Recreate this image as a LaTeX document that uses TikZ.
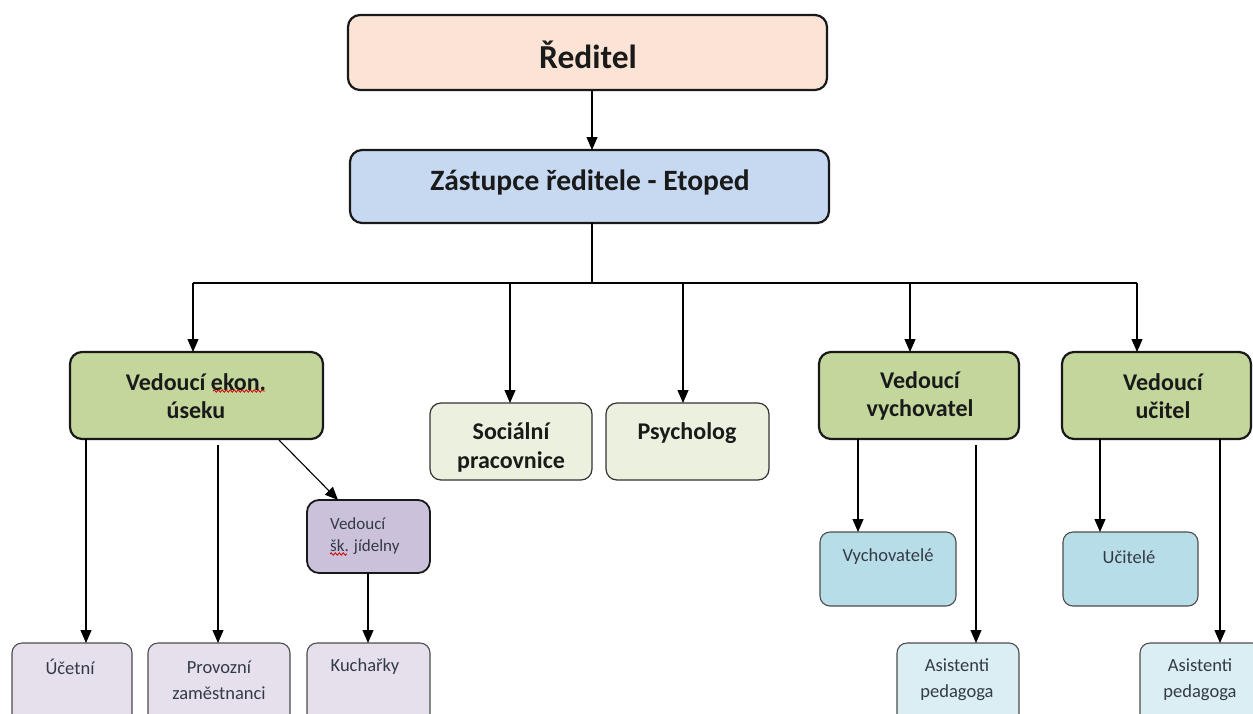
\documentclass[tikz,border=0pt]{standalone}
\usepackage{fontspec}
\setmainfont{Carlito}
\usetikzlibrary{arrows.meta,decorations.pathmorphing}
\definecolor{cRed}{HTML}{FBE4D5}
\definecolor{cZast}{HTML}{C6D9F1}
\definecolor{cGreen}{HTML}{C3D69B}
\definecolor{cLGreen}{HTML}{EBF1DE}
\definecolor{cPurple}{HTML}{CCC1DA}
\definecolor{cLPurple}{HTML}{E5E0EC}
\definecolor{cBlue}{HTML}{B7DEE8}
\definecolor{cLBlue}{HTML}{DBEEF4}
\definecolor{cTxt}{HTML}{1A1A1A}
\definecolor{cSmall}{HTML}{333A44}
\tikzset{
  bigbox/.style={draw=black!90, line width=2.2pt, rounded corners=12pt, inner sep=0pt, outer sep=0pt},
  midbox/.style={draw=black!80, line width=1.2pt, rounded corners=11pt, inner sep=0pt, outer sep=0pt},
  smallbox/.style={draw=black!70, line width=1.1pt, rounded corners=10pt, inner sep=0pt, outer sep=0pt},
  bigtxt/.style={font=\bfseries, text=cTxt, align=center, inner sep=0pt},
  smalltxt/.style={font=\fontsize{18.5}{26}\selectfont, text=cSmall, align=center, inner sep=0pt},
  arr/.style={line width=1.1pt, draw=black, -{Triangle[length=13pt,width=11pt]}},
  plain/.style={line width=1.1pt, draw=black},
  squig/.style={draw=red!80!black, line width=0.8pt, decorate, decoration={snake, amplitude=1.2pt, segment length=4pt}}
}
\begin{document}
\begin{tikzpicture}[x=1pt,y=-1pt]
\useasboundingbox (0,0) rectangle (1253,713);
\fill[white] (0,0) rectangle (1253,713);
\clip (0,0) rectangle (1253,713);

% boxes
\node[bigbox, fill=cRed, minimum width=479, minimum height=75] (reditel) at (587.5,52.5) {};
\node[bigbox, fill=cZast, minimum width=479, minimum height=73] (zast) at (589.5,186.5) {};
\node[bigbox, fill=cGreen, minimum width=253, minimum height=87] (ekon) at (196.5,395.5) {};
\node[midbox, fill=cLGreen, minimum width=162, minimum height=77] (soc) at (511,441.5) {};
\node[midbox, fill=cLGreen, minimum width=163, minimum height=77] (psy) at (687.5,441.5) {};
\node[bigbox, fill=cGreen, minimum width=200, minimum height=87] (vych) at (919,395.5) {};
\node[bigbox, fill=cGreen, minimum width=189, minimum height=87] (uc) at (1156.5,395.5) {};
\node[bigbox, line width=1.8pt, fill=cPurple, minimum width=123, minimum height=73] (jid) at (368.5,536.5) {};
\node[smallbox, fill=cLPurple, minimum width=120, minimum height=90] (ucetni) at (72,688) {};
\node[smallbox, fill=cLPurple, minimum width=142, minimum height=90] (prov) at (219,688) {};
\node[smallbox, fill=cLPurple, minimum width=123, minimum height=90] (kuch) at (368.5,688) {};
\node[smallbox, fill=cBlue, minimum width=136, minimum height=74] (vychov) at (888,569) {};
\node[smallbox, fill=cLBlue, minimum width=122, minimum height=90] (asist1) at (958,688) {};
\node[smallbox, fill=cBlue, minimum width=135, minimum height=74] (ucitele) at (1130.5,569) {};
\node[smallbox, fill=cLBlue, minimum width=122, minimum height=90] (asist2) at (1201,688) {};

% texts
\node[bigtxt, font=\fontsize{33.5}{36}\selectfont\bfseries] (tReditel) at (588,55) {Ředitel};
\node[bigtxt, font=\fontsize{29.5}{32}\selectfont\bfseries] (tZast) at (590,182) {Zástupce ředitele - Etoped};
\node[bigtxt, font=\fontsize{24}{28}\selectfont\bfseries] (tEkon) at (196,396) {Vedoucí ekon.\\úseku};
\node[bigtxt, font=\fontsize{24}{29}\selectfont\bfseries] (tSoc) at (511,447) {Sociální\\pracovnice};
\node[bigtxt, font=\fontsize{24}{29}\selectfont\bfseries] (tPsy) at (687,433) {Psycholog};
\node[bigtxt, font=\fontsize{24}{28}\selectfont\bfseries] (tVych) at (920,396) {Vedoucí\\vychovatel};
\node[bigtxt, font=\fontsize{24}{28}\selectfont\bfseries] (tUc) at (1163,396) {Vedoucí\\učitel};
\node[smalltxt, align=left, anchor=west, font=\fontsize{17}{22}\selectfont] (tJid) at (330,536) {Vedoucí\\šk. jídelny};
\node[smalltxt] (tUcetni) at (70,667) {Účetní};
\node[smalltxt] (tProv) at (219,680) {Provozní\\zaměstnanci};
\node[smalltxt] (tKuch) at (365,667) {Kuchařky};
\node[smalltxt] (tVychov) at (888,557) {Vychovatelé};
\node[smalltxt] (tAsist1) at (957,680) {Asistenti\\pedagoga};
\node[smalltxt] (tUcitele) at (1129,557) {Učitelé};
\node[smalltxt] (tAsist2) at (1200,680) {Asistenti\\pedagoga};

% spell-check squiggles
\draw[squig] (213,391) -- (265,391);
\draw[squig] (330,554) -- (347,554);

% connectors
\coordinate (junc) at (592,283);
\coordinate (busL) at (193,283);
\coordinate (busR) at (1137,283);
\draw[arr] (592,0 |- reditel.south) -- (592,0 |- zast.north);
\draw[plain] (592,0 |- zast.south) -- (junc);
\draw[plain] (busL) -- (busR);
\draw[arr] (busL) -- (193,0 |- ekon.north);
\draw[arr] (510,283) -- (510,0 |- soc.north);
\draw[arr] (683,283) -- (683,0 |- psy.north);
\draw[arr] (910,283) -- (910,0 |- vych.north);
\draw[arr] (busR) -- (1137,0 |- uc.north);

\coordinate (provStart) at (218,445);
\coordinate (jidStart) at (279,440);
\draw[arr] (86,0 |- ekon.south) -- (86,0 |- ucetni.north);
\draw[arr] (provStart) -- (218,0 |- prov.north);
\draw[arr] (jidStart) -- (338,0 |- jid.north);
\draw[arr] (368,0 |- jid.south) -- (368,0 |- kuch.north);

\coordinate (asist1Start) at (976,445);
\draw[arr] (858,0 |- vych.south) -- (858,0 |- vychov.north);
\draw[arr] (asist1Start) -- (976,0 |- asist1.north);
\draw[arr] (1100,0 |- uc.south) -- (1100,0 |- ucitele.north);
\draw[arr] (1220,0 |- uc.south) -- (1220,0 |- asist2.north);
\end{tikzpicture}
\end{document}
